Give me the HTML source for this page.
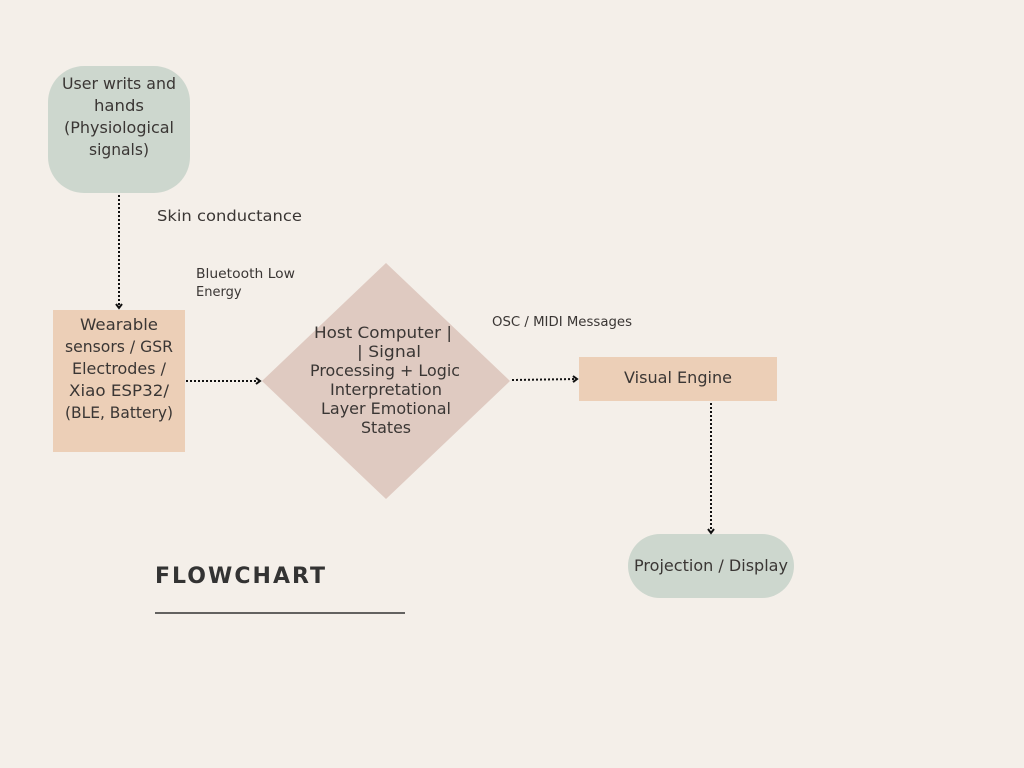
<!DOCTYPE html>
<html><head><meta charset="utf-8"><style>
html,body{margin:0;padding:0;background:#f4efe9;}
svg{display:block;font-family:"DejaVu Sans","Liberation Sans",sans-serif;}
</style></head><body>
<svg width="1024" height="768" viewBox="0 0 1024 768" xmlns="http://www.w3.org/2000/svg">
<defs>
<marker id="a" markerWidth="8" markerHeight="8" refX="5" refY="4" orient="auto" markerUnits="userSpaceOnUse">
<path d="M1,1 L5,4 L1,7" fill="none" stroke="#111" stroke-width="2"/>
</marker>
</defs>
<rect width="1024" height="768" fill="#f4efe9"/>
<rect x="48" y="66" width="142" height="127" rx="36" fill="#cdd7ce"/>
<rect x="53" y="310" width="132" height="142" fill="#eccfb7"/>
<polygon points="386,263 510,381 386,499 262,381" fill="#dfcac1"/>
<rect x="579" y="357" width="198" height="44" fill="#eccfb7"/>
<rect x="628" y="534" width="166" height="64" rx="32" fill="#cdd7ce"/>
<g stroke="#111" stroke-width="2" stroke-dasharray="2,2" fill="none">
<line x1="119" y1="195" x2="119" y2="308" marker-end="url(#a)"/>
<line x1="186" y1="381" x2="260" y2="381" marker-end="url(#a)"/>
<line x1="512" y1="380" x2="577" y2="379" marker-end="url(#a)"/>
<line x1="711" y1="403" x2="711" y2="533" marker-end="url(#a)"/>
</g>
<g fill="#3a3634" font-size="16" text-anchor="middle">
<text x="119" y="89" textLength="114" lengthAdjust="spacingAndGlyphs">User writs and</text>
<text x="119" y="111" textLength="50" lengthAdjust="spacingAndGlyphs">hands</text>
<text x="119" y="133" textLength="110" lengthAdjust="spacingAndGlyphs">(Physiological</text>
<text x="119" y="155" textLength="60" lengthAdjust="spacingAndGlyphs">signals)</text>
<text x="119" y="330" textLength="78" lengthAdjust="spacingAndGlyphs">Wearable</text>
<text x="119" y="352" textLength="108" lengthAdjust="spacingAndGlyphs">sensors / GSR</text>
<text x="119" y="374" textLength="94" lengthAdjust="spacingAndGlyphs">Electrodes /</text>
<text x="119" y="396" textLength="100" lengthAdjust="spacingAndGlyphs">Xiao ESP32/</text>
<text x="119" y="418" textLength="108" lengthAdjust="spacingAndGlyphs">(BLE, Battery)</text>
<text x="383" y="338" textLength="138" lengthAdjust="spacingAndGlyphs">Host Computer   |</text>
<text x="389" y="357" textLength="64" lengthAdjust="spacingAndGlyphs">|  Signal</text>
<text x="385" y="376" textLength="150" lengthAdjust="spacingAndGlyphs">Processing + Logic</text>
<text x="386" y="395" textLength="112" lengthAdjust="spacingAndGlyphs">Interpretation</text>
<text x="386" y="414" textLength="130" lengthAdjust="spacingAndGlyphs">Layer Emotional</text>
<text x="386" y="433" textLength="50" lengthAdjust="spacingAndGlyphs">States</text>
<text x="678" y="383" textLength="108" lengthAdjust="spacingAndGlyphs">Visual Engine</text>
<text x="711" y="571" textLength="154" lengthAdjust="spacingAndGlyphs">Projection / Display</text>
</g>
<g fill="#3a3634">
<text x="157" y="221" font-size="15" textLength="145" lengthAdjust="spacingAndGlyphs">Skin conductance</text>
<text x="196" y="278" font-size="13" textLength="99" lengthAdjust="spacingAndGlyphs">Bluetooth Low</text>
<text x="196" y="296" font-size="13">Energy</text>
<text x="492" y="326" font-size="13" textLength="140" lengthAdjust="spacingAndGlyphs">OSC / MIDI Messages</text>
<text x="155" y="583" font-size="22" font-weight="bold" fill="#333" textLength="170" lengthAdjust="spacing">FLOWCHART</text>
</g>
<line x1="155" y1="613" x2="405" y2="613" stroke="#333" stroke-width="1.5"/>
</svg>
</body></html>
